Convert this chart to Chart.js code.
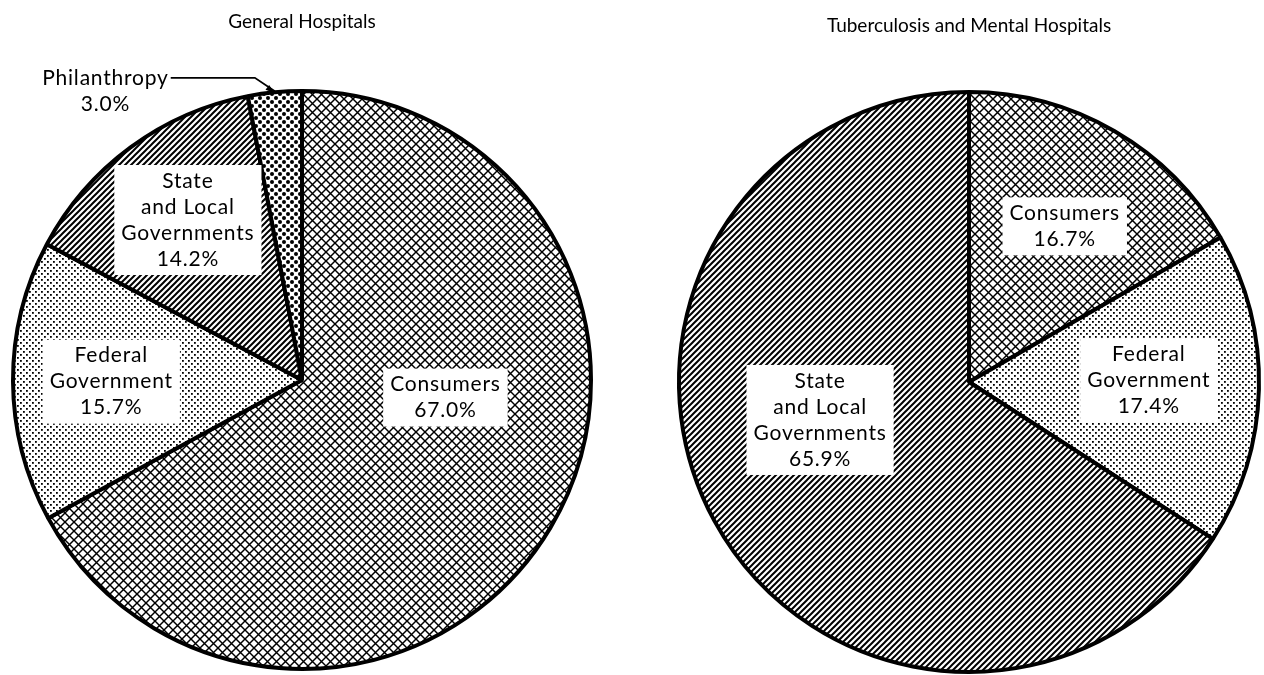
<!DOCTYPE html>
<html>
<head>
<meta charset="utf-8">
<script src="https://cdn.jsdelivr.net/npm/chart.js@4.4.1/dist/chart.umd.min.js"></script>
<style>
  html, body { margin: 0; padding: 0; background: #fff; overflow: hidden; }
  body { width: 1264px; height: 675px; position: relative; }
  .pie { position: absolute; top: 0; width: 600px; height: 690px; }
  #generalWrap { left: 2px; }
  #tbWrap { left: 669px; }
</style>
</head>
<body>
<div class="pie" id="generalWrap"><canvas id="generalChart"></canvas></div>
<div class="pie" id="tbWrap"><canvas id="tbChart"></canvas></div>
<script>
// data
const generalLabels = ['Consumers', 'Federal Government', 'State and Local Governments', 'Philanthropy'];
const generalValues = [67.0, 15.7, 14.2, 3.0];
const tbLabels = ['Consumers', 'Federal Government', 'State and Local Governments'];
const tbValues = [16.7, 17.4, 65.9];

const FONT = 'Lato, "DejaVu Sans", sans-serif';

// hatch patterns, one per source of funds
function makePattern(size, draw) {
    const c = document.createElement('canvas');
    c.width = size; c.height = size;
    const g = c.getContext('2d');
    g.fillStyle = '#fff';
    g.fillRect(0, 0, size, size);
    g.fillStyle = '#000';
    g.strokeStyle = '#000';
    draw(g, size);
    return g.createPattern(c, 'repeat');
}

const crossHatch = makePattern(9, function (g, s) {
    g.lineWidth = 1.45;
    g.beginPath();
    g.moveTo(0, 0); g.lineTo(s, s);
    g.moveTo(0, s); g.lineTo(s, 0);
    g.stroke();
});
const fineDots = makePattern(6, function (g) {
    g.fillRect(0, 0, 1.8, 1.8);
    g.fillRect(3, 3, 1.8, 1.8);
});
const diagLines = makePattern(6, function (g, s) {
    g.lineWidth = 2;
    g.beginPath();
    g.moveTo(-1, s + 1); g.lineTo(s + 1, -1);
    g.moveTo(-1, 1); g.lineTo(1, -1);
    g.moveTo(s - 1, s + 1); g.lineTo(s + 1, s - 1);
    g.stroke();
});
const bigDots = makePattern(8, function (g) {
    g.beginPath(); g.arc(2, 2, 2, 0, Math.PI * 2); g.fill();
    g.beginPath(); g.arc(6, 6, 2, 0, Math.PI * 2); g.fill();
});

// labels drawn in white boxes inside the slices
function sliceLabels(items) {
    return {
        id: 'sliceLabels',
        afterDatasetsDraw(chart) {
            const ctx = chart.ctx;
            const arcs = chart.getDatasetMeta(0).data;
            const values = chart.data.datasets[0].data;
            ctx.save();
            ctx.font = '21px ' + FONT;
            ctx.letterSpacing = '0.8px';
            ctx.textAlign = 'center';
            ctx.textBaseline = 'middle';
            items.forEach(function (item, i) {
                const arc = arcs[i];
                const r = arc.outerRadius;
                const a = item.angle * Math.PI / 180;
                const cx = arc.x + Math.sin(a) * r * item.dist;
                const cy = arc.y - Math.cos(a) * r * item.dist;
                const lines = item.lines.concat([values[i].toFixed(1) + '%']);
                const lh = 26;
                const w = Math.max.apply(null, lines.map(function (l) { return ctx.measureText(l).width; }));
                const h = lines.length * lh;
                if (!item.outside) {
                    ctx.fillStyle = '#fff';
                    ctx.fillRect(cx - w / 2 - 7, cy - h / 2 - 3, w + 14, h + 6);
                }
                ctx.fillStyle = '#000';
                for (let k = 0; k < lines.length; k++) {
                    ctx.fillText(lines[k], cx, cy - h / 2 + lh / 2 + k * lh);
                }
                if (item.outside) {
                    // leader line with arrow into the thin slice
                    const mid = (arc.startAngle + arc.endAngle) / 2;
                    const tx = arc.x + Math.cos(mid) * (r - 1);
                    const ty = arc.y + Math.sin(mid) * (r - 1);
                    const y0 = cy - h / 2 + lh / 2;
                    const x0 = cx + ctx.measureText(lines[0]).width / 2 + 2;
                    const kx = tx - 20;
                    ctx.strokeStyle = '#000';
                    ctx.lineWidth = 1.8;
                    ctx.beginPath();
                    ctx.moveTo(x0, y0);
                    ctx.lineTo(kx, y0);
                    ctx.lineTo(tx, ty - 2);
                    ctx.stroke();
                    const ang = Math.atan2(ty - y0, tx - kx);
                    ctx.beginPath();
                    ctx.moveTo(tx, ty);
                    ctx.lineTo(tx - 10 * Math.cos(ang - 0.3), ty - 10 * Math.sin(ang - 0.3));
                    ctx.lineTo(tx - 10 * Math.cos(ang + 0.3), ty - 10 * Math.sin(ang + 0.3));
                    ctx.closePath();
                    ctx.fill();
                }
            });
            ctx.restore();
        }
    };
}

function pieOptions(title, titlePad, bottomPad) {
    return {
        responsive: true,
        maintainAspectRatio: false,
        animation: false,
        events: [],
        layout: { padding: { top: 0, bottom: bottomPad, left: 0, right: 0 } },
        plugins: {
            legend: { display: false },
            tooltip: { enabled: false },
            title: {
                display: true,
                text: title,
                color: '#000',
                font: { family: FONT, size: 19, weight: 'normal' },
                padding: titlePad
            }
        }
    };
}

new Chart(document.getElementById('generalChart').getContext('2d'), {
    type: 'pie',
    data: {
        labels: generalLabels,
        datasets: [{
            data: generalValues,
            backgroundColor: [crossHatch, fineDots, diagLines, bigDots],
            borderColor: '#000',
            borderWidth: 4
        }]
    },
    options: pieOptions('General Hospitals', { top: 10, bottom: 56.2 }, 19),
    plugins: [sliceLabels([
        { lines: ['Consumers'], angle: 97, dist: 0.5 },
        { lines: ['Federal', 'Government'], angle: 269.5, dist: 0.66 },
        { lines: ['State', 'and Local', 'Governments'], angle: 324.5, dist: 0.68 },
        { lines: ['Philanthropy'], angle: 325.8, dist: 1.21, outside: true }
    ])]
});

new Chart(document.getElementById('tbChart').getContext('2d'), {
    type: 'pie',
    data: {
        labels: tbLabels,
        datasets: [{
            data: tbValues,
            backgroundColor: [crossHatch, fineDots, diagLines],
            borderColor: '#000',
            borderWidth: 4
        }]
    },
    options: pieOptions('Tuberculosis and Mental Hospitals', { top: 14, bottom: 53.2 }, 16),
    plugins: [sliceLabels([
        { lines: ['Consumers'], angle: 31.6, dist: 0.63 },
        { lines: ['Federal', 'Government'], angle: 89.5, dist: 0.62 },
        { lines: ['State', 'and Local', 'Governments'], angle: 255.7, dist: 0.53 }
    ])]
});
</script>
</body>
</html>
